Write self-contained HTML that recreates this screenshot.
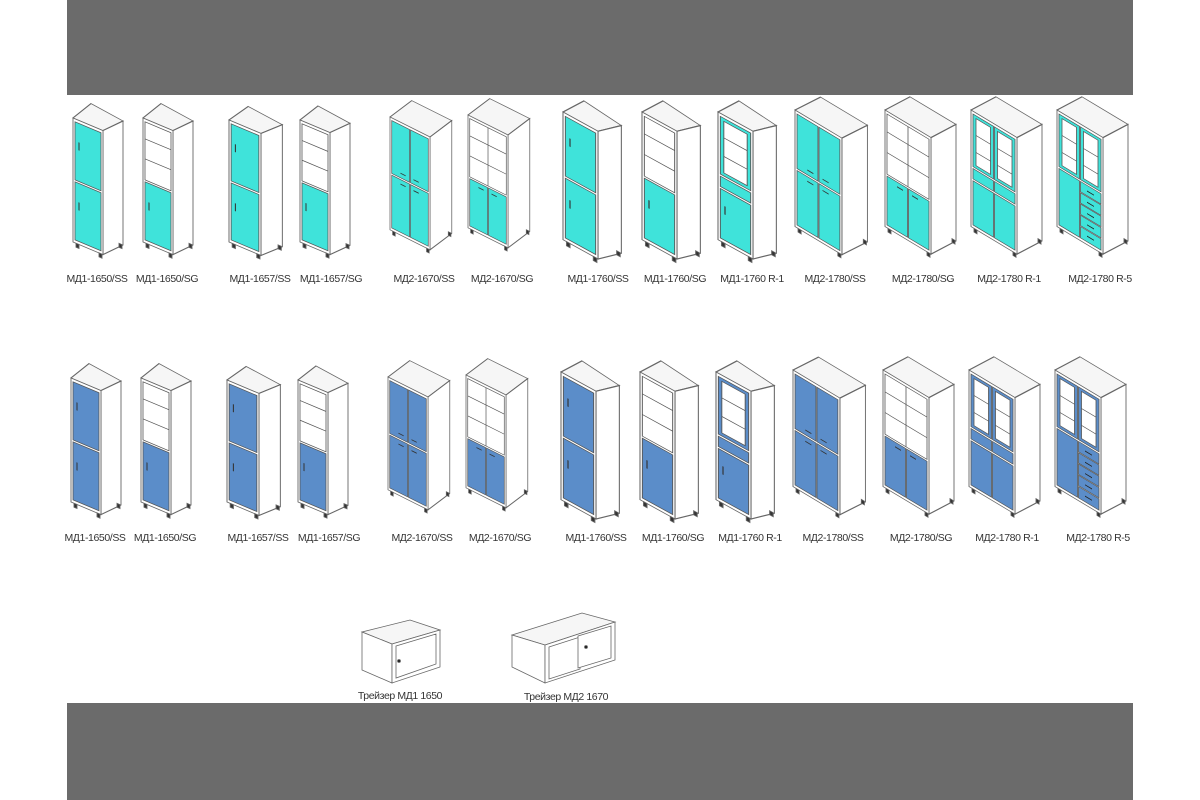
<!DOCTYPE html>
<html><head><meta charset="utf-8"><style>
html,body{margin:0;padding:0;background:#fff;}
svg{display:block;}
text{font-family:"Liberation Sans",sans-serif;font-size:10.5px;fill:#333;text-anchor:middle;letter-spacing:-0.4px;}
</style></head><body>
<svg width="1200" height="800" viewBox="0 0 1200 800" xmlns="http://www.w3.org/2000/svg">
<rect x="67" y="0" width="1066" height="95" fill="#6b6b6b"/>
<rect x="67" y="703" width="1066" height="97" fill="#6b6b6b"/>
<defs>
<g id="b1" stroke="#666" stroke-width="0.9">
 <path d="M0,0 L30,0 L50,-18 L18,-22 Z" fill="#f6f6f6"/>
 <path d="M30,0 L50,-18 L50,106 L30,124 Z" fill="#fff"/>
 <rect x="0" y="0" width="30" height="124" fill="#fff"/>
 <rect x="3" y="124" width="3" height="4" fill="#333"/><rect x="26" y="124" width="3" height="4" fill="#333"/><rect x="46" y="106" width="3" height="4" fill="#333"/>
</g>
<g id="b2" stroke="#666" stroke-width="0.9">
 <path d="M0,0 L46,0 L71,-30 L25,-30 Z" fill="#f6f6f6"/>
 <path d="M46,0 L71,-30 L71,94 L46,124 Z" fill="#fff"/>
 <rect x="0" y="0" width="46" height="124" fill="#fff"/>
 <rect x="3" y="124" width="3" height="4" fill="#333"/><rect x="42" y="124" width="3" height="4" fill="#333"/><rect x="67" y="94" width="3" height="4" fill="#333"/>
</g>
<g id="sSS"><use href="#b1"/><g stroke="#555" stroke-width="0.8" fill="currentColor"><rect x="2" y="3" width="26" height="58"/><rect x="2" y="63" width="26" height="58"/></g><g stroke="#333"><line x1="6" y1="22" x2="6" y2="30"/><line x1="6" y1="82" x2="6" y2="90"/></g></g>
<g id="sSG"><use href="#b1"/><g stroke="#555" stroke-width="0.8"><rect x="2" y="3" width="26" height="58" fill="#fff"/><line x1="2" y1="20" x2="28" y2="20"/><line x1="2" y1="40" x2="28" y2="40"/><rect x="2" y="63" width="26" height="58" fill="currentColor"/></g><line x1="6" y1="82" x2="6" y2="90" stroke="#333"/></g>
<g id="sR1"><use href="#b1"/><g stroke="#555" stroke-width="0.8"><rect x="2" y="3" width="26" height="56" fill="currentColor"/><rect x="5" y="6" width="20" height="50" fill="#fff"/><line x1="5" y1="22" x2="25" y2="22"/><line x1="5" y1="40" x2="25" y2="40"/><rect x="2" y="61" width="26" height="10" fill="currentColor"/><rect x="2" y="73" width="26" height="48" fill="currentColor"/></g><line x1="6" y1="88" x2="6" y2="96" stroke="#333"/></g>
<g id="dSS"><use href="#b2"/><g stroke="#555" stroke-width="0.8" fill="currentColor"><rect x="2" y="3" width="20.5" height="58"/><rect x="23.5" y="3" width="20.5" height="58"/><rect x="2" y="63" width="20.5" height="58"/><rect x="23.5" y="63" width="20.5" height="58"/></g><g stroke="#333"><line x1="12" y1="56" x2="18" y2="56"/><line x1="27" y1="56" x2="33" y2="56"/><line x1="12" y1="68" x2="18" y2="68"/><line x1="27" y1="68" x2="33" y2="68"/></g></g>
<g id="dSG"><use href="#b2"/><g stroke="#555" stroke-width="0.8"><rect x="2" y="3" width="42" height="64" fill="#fff"/><line x1="2" y1="22" x2="44" y2="22"/><line x1="2" y1="44" x2="44" y2="44"/><line x1="23" y1="3" x2="23" y2="67"/><rect x="2" y="69" width="20.5" height="52" fill="currentColor"/><rect x="23.5" y="69" width="20.5" height="52" fill="currentColor"/></g><g stroke="#333"><line x1="12" y1="74" x2="18" y2="74"/><line x1="27" y1="74" x2="33" y2="74"/></g></g>
<g id="dR1"><use href="#b2"/><g stroke="#555" stroke-width="0.8"><rect x="2" y="3" width="20.5" height="56" fill="currentColor"/><rect x="23.5" y="3" width="20.5" height="56" fill="currentColor"/><rect x="5" y="6" width="14.5" height="50" fill="#fff"/><rect x="26.5" y="6" width="14.5" height="50" fill="#fff"/><line x1="5" y1="24" x2="19.5" y2="24"/><line x1="26.5" y1="24" x2="41" y2="24"/><line x1="5" y1="42" x2="19.5" y2="42"/><line x1="26.5" y1="42" x2="41" y2="42"/><rect x="2" y="61" width="20.5" height="11" fill="currentColor"/><rect x="23.5" y="61" width="20.5" height="11" fill="currentColor"/><rect x="2" y="74" width="20.5" height="47" fill="currentColor"/><rect x="23.5" y="74" width="20.5" height="47" fill="currentColor"/></g></g>
<g id="dR5"><use href="#b2"/><g stroke="#555" stroke-width="0.8"><rect x="2" y="3" width="20.5" height="56" fill="currentColor"/><rect x="23.5" y="3" width="20.5" height="56" fill="currentColor"/><rect x="5" y="6" width="14.5" height="50" fill="#fff"/><rect x="26.5" y="6" width="14.5" height="50" fill="#fff"/><line x1="5" y1="24" x2="19.5" y2="24"/><line x1="26.5" y1="24" x2="41" y2="24"/><line x1="5" y1="42" x2="19.5" y2="42"/><line x1="26.5" y1="42" x2="41" y2="42"/><rect x="2" y="61" width="20.5" height="60" fill="currentColor"/><rect x="23.5" y="61" width="20.5" height="11" fill="currentColor"/><rect x="23.5" y="73" width="20.5" height="11" fill="currentColor"/><rect x="23.5" y="85" width="20.5" height="11" fill="currentColor"/><rect x="23.5" y="97" width="20.5" height="11" fill="currentColor"/><rect x="23.5" y="109" width="20.5" height="12" fill="currentColor"/></g><g stroke="#222"><line x1="30" y1="67" x2="37" y2="67"/><line x1="30" y1="79" x2="37" y2="79"/><line x1="30" y1="91" x2="37" y2="91"/><line x1="30" y1="103" x2="37" y2="103"/><line x1="30" y1="115" x2="37" y2="115"/></g></g>
<g id="row">
 <use href="#sSS" transform="translate(73,118) matrix(1,0.42,0,1,0,0)"/>
 <use href="#sSG" transform="translate(143,118) matrix(1,0.42,0,1,0,0)"/>
 <use href="#sSS" transform="translate(229,120) matrix(1,0.42,0,1,0,0) scale(1.067,0.984)"/>
 <use href="#sSG" transform="translate(300,120) matrix(1,0.42,0,1,0,0) scale(1,0.984)"/>
 <use href="#dSS" transform="translate(390,117) matrix(1,0.5,0,1,0,0) scale(0.87,0.91)"/>
 <use href="#dSG" transform="translate(468,115) matrix(1,0.5,0,1,0,0) scale(0.87,0.91)"/>
 <use href="#sSS" transform="translate(563,112) matrix(1,0.55,0,1,0,0) scale(1.167,1.03)"/>
 <use href="#sSG" transform="translate(642,112) matrix(1,0.55,0,1,0,0) scale(1.167,1.03)"/>
 <use href="#sR1" transform="translate(718,112) matrix(1,0.55,0,1,0,0) scale(1.167,1.03)"/>
 <use href="#dSS" transform="translate(795,110) matrix(1,0.6,0,1,0,0) scale(1.02,0.94)"/>
 <use href="#dSG" transform="translate(885,110) matrix(1,0.6,0,1,0,0) scale(1,0.94)"/>
 <use href="#dR1" transform="translate(971,110) matrix(1,0.6,0,1,0,0) scale(1,0.94)"/>
 <use href="#dR5" transform="translate(1057,110) matrix(1,0.6,0,1,0,0) scale(1,0.94)"/>
</g>
</defs>
<use href="#row" style="color:#3fe3da"/>
<use href="#row" transform="translate(-2,260)" style="color:#5b8dc9"/>
<g>
<text x="97" y="282">МД1-1650/SS</text><text x="167" y="282">МД1-1650/SG</text>
<text x="260" y="282">МД1-1657/SS</text><text x="331" y="282">МД1-1657/SG</text>
<text x="424" y="282">МД2-1670/SS</text><text x="502" y="282">МД2-1670/SG</text>
<text x="598" y="282">МД1-1760/SS</text><text x="675" y="282">МД1-1760/SG</text>
<text x="752" y="282">МД1-1760 R-1</text><text x="835" y="282">МД2-1780/SS</text>
<text x="923" y="282">МД2-1780/SG</text><text x="1009" y="282">МД2-1780 R-1</text>
<text x="1100" y="282">МД2-1780 R-5</text>
</g>
<g>
<text x="95" y="541">МД1-1650/SS</text><text x="165" y="541">МД1-1650/SG</text>
<text x="258" y="541">МД1-1657/SS</text><text x="329" y="541">МД1-1657/SG</text>
<text x="422" y="541">МД2-1670/SS</text><text x="500" y="541">МД2-1670/SG</text>
<text x="596" y="541">МД1-1760/SS</text><text x="673" y="541">МД1-1760/SG</text>
<text x="750" y="541">МД1-1760 R-1</text><text x="833" y="541">МД2-1780/SS</text>
<text x="921" y="541">МД2-1780/SG</text><text x="1007" y="541">МД2-1780 R-1</text>
<text x="1098" y="541">МД2-1780 R-5</text>
</g>
<g stroke="#666" stroke-width="0.8" fill="#fff">
 <path d="M362,632 L392,644 L440,630 L410,620 Z" fill="#f6f6f6"/>
 <path d="M362,632 L392,644 L392,683 L362,670 Z"/>
 <path d="M392,644 L440,630 L440,667 L392,683 Z"/>
 <path d="M396,646 L436,634 L436,664 L396,678 Z"/>
 <circle cx="399" cy="661" r="1.5" fill="#222"/>
 <path d="M512,635 L545,645 L615,622 L582,613 Z" fill="#f6f6f6"/>
 <path d="M512,635 L545,645 L545,683 L512,667 Z"/>
 <path d="M545,645 L615,622 L615,660 L545,683 Z"/>
 <path d="M549,647 L580,637 L580,669 L549,679 Z"/>
 <path d="M578,636 L611,626 L611,658 L578,668 Z"/>
 <circle cx="586" cy="647" r="1.5" fill="#222"/>
</g>
<text x="400" y="699">Трейзер МД1 1650</text>
<text x="566" y="700">Трейзер МД2 1670</text>
</svg>
</body></html>
